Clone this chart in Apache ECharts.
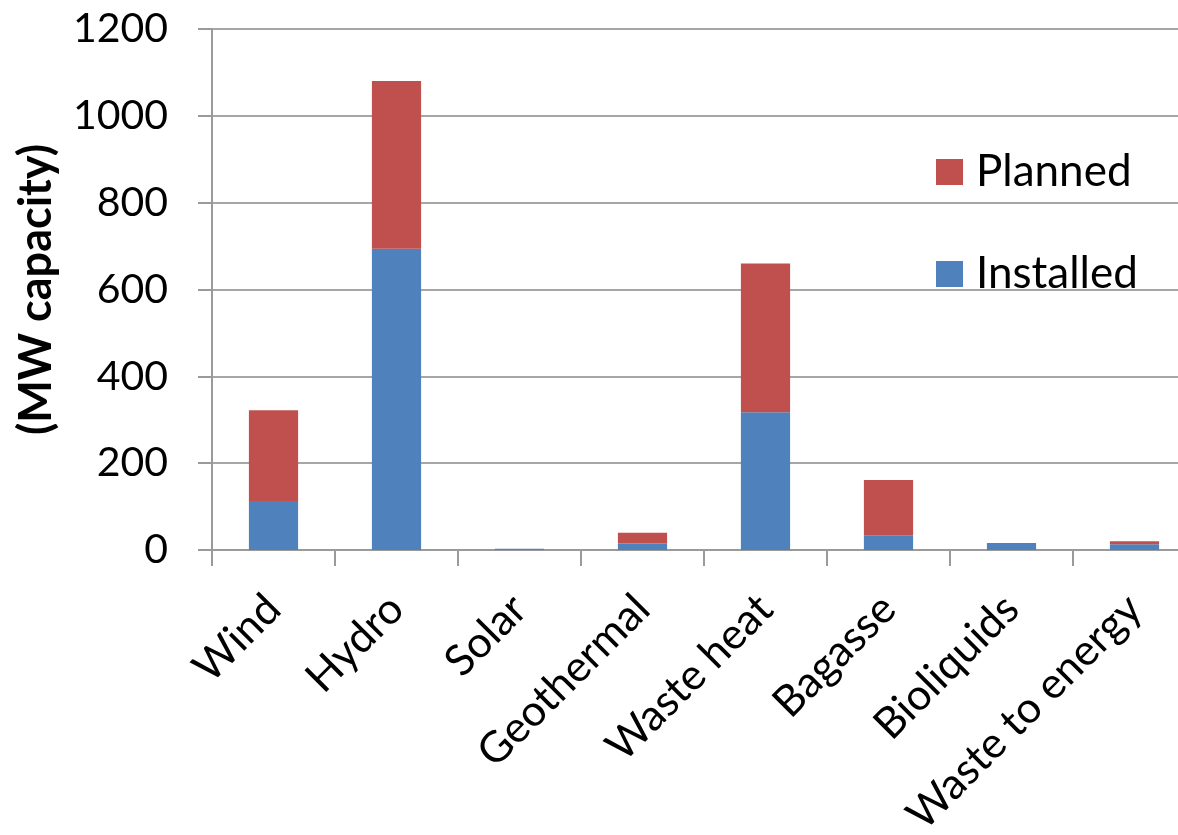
<!DOCTYPE html>
<html>
<head>
<meta charset="utf-8">
<script src="https://cdn.jsdelivr.net/npm/echarts@6/dist/echarts.min.js"></script>
<style>
  html, body { margin: 0; padding: 0; background: #fff; }
  #chart { width: 1178px; height: 835px; }
</style>
</head>
<body>
<div id="chart"></div>
<script>
// Renewable capacity by technology (MW)
const categories = ['Wind', 'Hydro', 'Solar', 'Geothermal', 'Waste heat', 'Bagasse', 'Bioliquids', 'Waste to energy'];
const installed = [113, 694, 3, 15, 317, 34, 16, 13];
const planned = [209, 386, 0, 25, 343, 127, 0, 7];
const yTicks = [0, 200, 400, 600, 800, 1000, 1200];

const FONT = 'Lato, "Open Sans", sans-serif';
const chart = echarts.init(document.getElementById('chart'), null, { renderer: 'canvas' });

chart.setOption({
  animation: false,
  backgroundColor: '#ffffff',
  textStyle: { fontFamily: FONT, color: '#000' },
  grid: { left: 212, top: 29, right: -18, bottom: 285, containLabel: false, outerBoundsMode: 'none' },
  legend: {
    orient: 'vertical',
    left: 936,
    top: 150,
    padding: 0,
    itemWidth: 27,
    itemHeight: 26,
    itemGap: 58,
    icon: 'rect',
    data: ['Planned', 'Installed'],
    textStyle: { fontFamily: FONT, fontSize: 44, lineHeight: 44, color: '#000', padding: [0, 0, 0, 8] }
  },
  xAxis: {
    type: 'category',
    data: categories,
    axisLine: { lineStyle: { color: '#9a9a9a', width: 2 } },
    axisTick: { show: true, length: 16, lineStyle: { color: '#9a9a9a', width: 2 } },
    axisLabel: { rotate: 45, fontSize: 43, margin: 52, color: '#000', fontFamily: FONT, interval: 0 }
  },
  yAxis: {
    type: 'value',
    min: yTicks[0],
    max: yTicks[yTicks.length - 1],
    interval: 200,
    name: '(MW capacity)',
    nameLocation: 'middle',
    nameGap: 153,
    nameTextStyle: { fontSize: 45, fontWeight: 'bold', color: '#000', fontFamily: FONT },
    axisLine: { show: true, lineStyle: { color: '#9a9a9a', width: 2 } },
    axisTick: { show: true, length: 14, lineStyle: { color: '#9a9a9a', width: 2 } },
    axisLabel: { fontSize: 41, margin: 44, color: '#000', fontFamily: FONT, formatter: (v) => String(v) },
    splitLine: { lineStyle: { color: '#a6a6a6', width: 2 } }
  },
  series: [
    {
      name: 'Installed',
      type: 'bar',
      stack: 'total',
      barWidth: '40%',
      data: installed,
      itemStyle: { color: '#4f81bd' }
    },
    {
      name: 'Planned',
      type: 'bar',
      stack: 'total',
      barWidth: '40%',
      data: planned,
      itemStyle: { color: '#c0504d' }
    }
  ]
});
</script>
</body>
</html>
